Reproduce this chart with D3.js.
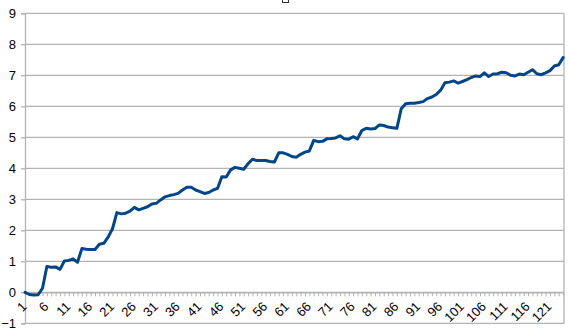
<!DOCTYPE html>
<html><head><meta charset="utf-8">
<script src="https://cdn.jsdelivr.net/npm/d3@7"></script>
<style>body{margin:0;background:#fff}svg{display:block}</style>
</head><body>
<script>
const values = [
 0.0,-0.07,-0.09,-0.08,0.13,0.83,0.81,0.82,0.74,1.01,
 1.03,1.08,0.97,1.41,1.39,1.38,1.38,1.55,1.58,1.78,
 2.05,2.57,2.53,2.55,2.62,2.74,2.66,2.71,2.76,2.85,
 2.87,2.98,3.08,3.12,3.15,3.19,3.3,3.39,3.39,3.3,
 3.25,3.19,3.22,3.3,3.35,3.73,3.72,3.95,4.03,4.0,
 3.97,4.15,4.29,4.25,4.25,4.25,4.22,4.2,4.5,4.5,
 4.45,4.38,4.36,4.45,4.52,4.56,4.9,4.86,4.87,4.95,
 4.96,4.98,5.05,4.95,4.94,5.02,4.95,5.22,5.29,5.27,
 5.28,5.4,5.38,5.33,5.31,5.29,5.92,6.08,6.1,6.1,
 6.12,6.15,6.25,6.3,6.38,6.52,6.76,6.78,6.82,6.75,
 6.8,6.86,6.93,6.98,6.96,7.08,6.96,7.04,7.05,7.1,
 7.08,7.0,6.98,7.04,7.02,7.1,7.18,7.05,7.02,7.08,
 7.15,7.3,7.34,7.57
];
const categories = values.map((d,i)=>i+1);
const xTickLabels = categories.filter(c => (c-1)%5===0);
const yTicks = [-1,0,1,2,3,4,5,6,7,8,9];

const W=571,H=329;
const svg=d3.select("body").append("svg").attr("width",W).attr("height",H);
const x=d3.scalePoint().domain(categories).range([25,563.1]);
const y=d3.scaleLinear().domain([-1,9]).range([323.3,13.3]);
const grid="#b3b3b3";
const font="'Liberation Sans', Arial, sans-serif";

// gridlines
svg.append("g").selectAll("line").data(yTicks).join("line")
  .attr("x1",25).attr("x2",564).attr("y1",d=>y(d)).attr("y2",d=>y(d))
  .attr("stroke",grid).attr("stroke-width",1.3);
// right border
svg.append("line").attr("x1",564).attr("x2",564).attr("y1",y(9)).attr("y2",y(-1))
  .attr("stroke",grid).attr("stroke-width",1.3);

// y axis
const yAxis=d3.axisLeft(y).tickValues(yTicks).tickSize(4).tickPadding(5).tickFormat(d3.format("d"));
const gy=svg.append("g").attr("transform","translate(25,0)").call(yAxis);
gy.select(".domain").attr("stroke",grid).attr("stroke-width",1.3);
gy.selectAll(".tick line").attr("stroke",grid).attr("stroke-width",1.3);
gy.selectAll("text").attr("font-family",font).attr("font-size",13).attr("fill","#000");

// x axis at y=0
const xAxis=d3.axisBottom(x).tickSize(4).tickSizeOuter(0)
  .tickFormat(d=> xTickLabels.includes(d)? String(d):"");
const gx=svg.append("g").attr("transform",`translate(0,${y(0)})`).call(xAxis);
gx.select(".domain").attr("stroke",grid).attr("stroke-width",1.3).attr("d",`M25,0.5H564`);
gx.selectAll(".tick line").attr("stroke",grid).attr("stroke-width",1);
gx.selectAll(".tick text").attr("font-family",font).attr("font-size",13).attr("fill","#000")
  .attr("text-anchor","end").attr("dy",null).attr("y",0)
  .attr("transform","translate(2,15) rotate(-45)");

// line
svg.append("path").datum(values)
  .attr("d",d3.line().x((d,i)=>x(categories[i])).y(d=>y(d)))
  .attr("fill","none").attr("stroke","#004586").attr("stroke-width",3)
  .attr("stroke-linejoin","round").attr("stroke-linecap","round");

// small title placeholder box
svg.append("rect").attr("x",282.5).attr("y",-4.5).attr("width",6).attr("height",7)
  .attr("fill","none").attr("stroke","#333").attr("stroke-width",1);
</script>
</body></html>
